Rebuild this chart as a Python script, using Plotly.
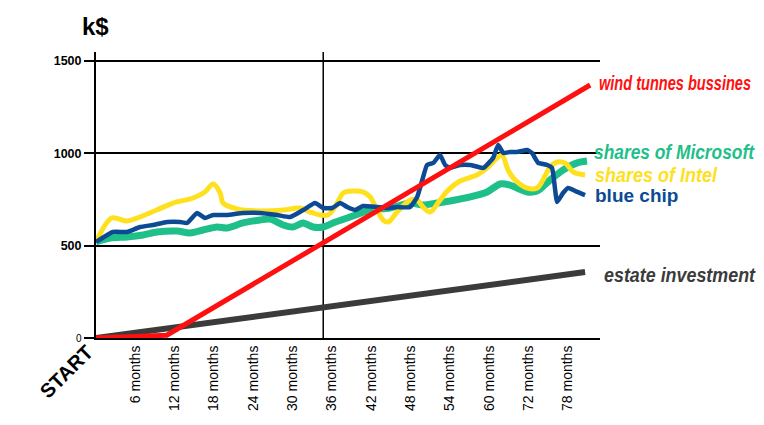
import plotly.graph_objects as go

# ---------------- data ----------------
tick_labels = ["", "6 months", "12 months", "18 months", "24 months", "30 months",
               "36 months", "42 months", "48 months", "54 months", "60 months",
               "72 months", "78 months"]
tick_pos = list(range(len(tick_labels)))

y_ticks = [0, 500, 1000, 1500]

intel_x = [0.00, 0.40, 0.78, 1.54, 1.96, 2.47, 2.77, 2.98, 3.16, 3.23, 3.59, 4.17, 4.76,
           5.19, 5.45, 5.70, 5.90, 6.08, 6.29, 6.54, 6.79, 6.97, 7.15, 7.30, 7.43, 7.66,
           7.99, 8.17, 8.32, 8.50, 8.75, 8.96, 9.26, 9.69, 9.95, 10.20, 10.33, 10.48,
           10.66, 10.97, 11.22, 11.37, 11.55, 11.73, 11.93, 12.14, 12.44]
intel_y = [520, 650, 634, 693, 731, 758, 791, 834, 785, 731, 699, 688, 693,
           704, 682, 666, 666, 709, 785, 796, 791, 764, 693, 639, 628, 682,
           747, 747, 709, 682, 747, 801, 850, 883, 921, 975, 991, 910,
           856, 812, 812, 856, 926, 953, 948, 899, 883]

msft_x = [0.00, 0.36, 0.79, 1.20, 1.55, 2.06, 2.39, 2.72, 3.08, 3.33, 3.74, 4.17, 4.43,
          4.76, 5.01, 5.27, 5.52, 5.78, 6.03, 6.46, 6.97, 7.48, 7.99, 8.32, 8.68, 9.01,
          9.52, 9.95, 10.28, 10.53, 10.97, 11.22, 11.55, 11.88, 12.24, 12.49]
msft_y = [520, 541, 547, 558, 574, 579, 569, 585, 601, 596, 623, 639, 644,
          612, 601, 623, 601, 601, 623, 655, 693, 704, 731, 720, 731, 742,
          764, 791, 834, 828, 791, 796, 856, 910, 948, 958]

blue_x = [0.00, 0.43, 0.79, 1.12, 1.45, 1.81, 2.14, 2.32, 2.57, 2.77, 2.98, 3.33, 3.74,
          4.17, 4.61, 4.94, 5.27, 5.57, 5.78, 6.01, 6.21, 6.39, 6.59, 6.79, 7.15, 7.40,
          7.66, 7.99, 8.17, 8.30, 8.42, 8.58, 8.75, 8.88, 9.01, 9.26, 9.52, 9.85, 10.10,
          10.23, 10.36, 10.53, 10.71, 10.97, 11.09, 11.25, 11.48, 11.60, 11.73, 11.88,
          12.01, 12.24, 12.44]
blue_y = [520, 574, 574, 601, 612, 628, 628, 623, 677, 650, 666, 666, 677,
          677, 666, 655, 693, 731, 704, 704, 731, 709, 693, 715, 709, 704,
          709, 709, 764, 856, 937, 948, 991, 937, 921, 937, 937, 921, 975,
          1045, 1002, 1007, 1007, 1018, 1002, 948, 937, 921, 736, 785,
          812, 791, 774]

wind_x = [0.00, 1.80, 12.57]
wind_y = [0, 15, 1370]

estate_x = [0.00, 12.44]
estate_y = [0, 357]

series_names = ["wind tunnes bussines", "shares of Microsoft", "shares of Intel",
                "blue chip", "estate investment"]

# ---------------- figure ----------------
fig = go.Figure()

fig.add_trace(go.Scatter(x=estate_x, y=estate_y, mode="lines",
                         line=dict(color="#3b3b3b", width=6), name=series_names[4]))
fig.add_trace(go.Scatter(x=msft_x, y=msft_y, mode="lines",
                         line=dict(color="#1fbf8a", width=7, shape="spline", smoothing=0.8),
                         name=series_names[1]))
fig.add_trace(go.Scatter(x=intel_x, y=intel_y, mode="lines",
                         line=dict(color="#ffe01f", width=5, shape="spline", smoothing=0.9),
                         name=series_names[2]))
fig.add_trace(go.Scatter(x=blue_x, y=blue_y, mode="lines",
                         line=dict(color="#0c4a94", width=4.5, shape="spline", smoothing=0.4),
                         name=series_names[3]))
fig.add_trace(go.Scatter(x=wind_x, y=wind_y, mode="lines",
                         line=dict(color="#ff1010", width=5), name=series_names[0]))

# vertical reference line near 36 months
fig.add_shape(type="line", xref="x", yref="paper", x0=5.78, x1=5.78, y0=0, y1=1,
              line=dict(color="black", width=1.5), layer="below")

fam = "Liberation Sans, Arial, sans-serif"

# (text, colour, centre y in px, left x in px, font size, italic)
label_specs = [
    (series_names[0], "#ff1010", 83, 597, 20, True),
    (series_names[1], "#1fbf8a", 151, 592, 21, True),
    (series_names[2], "#ffe01f", 174, 593, 21, True),
    (series_names[3], "#0c4a94", 195, 593, 19, False),
    (series_names[4], "#3b3b3b", 274, 602, 21, True),
]
for txt, col, ypx, xpx, size, ital in label_specs:
    t = "<b>" + (f"<i>{txt}</i>" if ital else txt) + "</b>"
    fig.add_annotation(text=t, xref="paper", yref="paper", x=(xpx - 96) / 504,
                       y=(338 - ypx) / 286, xanchor="left", yanchor="middle",
                       showarrow=False, font=dict(color=col, size=size, family=fam))

fig.add_annotation(text="<b>k$</b>", xref="paper", yref="paper", x=(95 - 96) / 504,
                   y=(338 - 27) / 286, xanchor="center", yanchor="middle", showarrow=False,
                   font=dict(size=24, color="black", family=fam))

fig.add_annotation(text="<b>START</b>", xref="paper", yref="paper", x=(66 - 96) / 504,
                   y=(338 - 372) / 286, xanchor="center", yanchor="middle", showarrow=False,
                   textangle=-45,
                   font=dict(size=20, color="black", family=fam))

y_ticktext = ["<span style='font-size:10px'>0</span>"] + [f"<b>{v}</b>" for v in y_ticks[1:]]

fig.update_layout(
    width=764, height=425,
    margin=dict(l=96, r=164, t=52, b=87, autoexpand=False),
    paper_bgcolor="white", plot_bgcolor="white",
    showlegend=False,
    font=dict(family=fam, color="black"),
    xaxis=dict(range=[0, 12.82], tickmode="array", tickvals=tick_pos, ticktext=tick_labels,
               tickangle=-90, tickfont=dict(size=14, color="black"), automargin=False,
               showgrid=False, zeroline=False, showline=True, linecolor="black",
               linewidth=2, ticks="", fixedrange=True),
    yaxis=dict(range=[0, 1548.7], tickmode="array", tickvals=y_ticks, ticktext=y_ticktext,
               tickfont=dict(size=12.5, color="black"), automargin=False,
               showgrid=True, gridcolor="black", gridwidth=2, zeroline=False,
               showline=True, linecolor="black", linewidth=2,
               ticks="outside", ticklen=10, tickwidth=2, tickcolor="black"),
)

# remove page margin; condense the long labels horizontally (narrow typeface in original)
squeeze_js = """
(function(){
  document.body.style.margin = '0';
  document.body.style.padding = '0';
  var targets = {"wind tunnes bussines":152, "shares of Microsoft":160,
                 "shares of Intel":122, "estate investment":151};
  function squeeze(){
    document.querySelectorAll('text.annotation-text').forEach(function(t){
      var s = t.textContent;
      if (targets[s] && !t.hasAttribute('textLength')) {
        var b0 = t.getBBox();
        t.setAttribute('text-anchor', 'start');
        t.setAttribute('x', b0.x);
        t.querySelectorAll('tspan').forEach(function(ts){
          if (ts.hasAttribute('x')) ts.setAttribute('x', b0.x);
        });
        t.setAttribute('textLength', targets[s]);
        t.setAttribute('lengthAdjust', 'spacingAndGlyphs');
        var g = t.parentNode;
        if (g) {
          var r = g.querySelector('rect.bg');
          if (r) { r.setAttribute('width', targets[s] + 4); }
        }
      }
    });
  }
  squeeze();
  setTimeout(squeeze, 50);
})();
"""

fig.write_html("out.html", post_script=squeeze_js, config={"displayModeBar": False})
